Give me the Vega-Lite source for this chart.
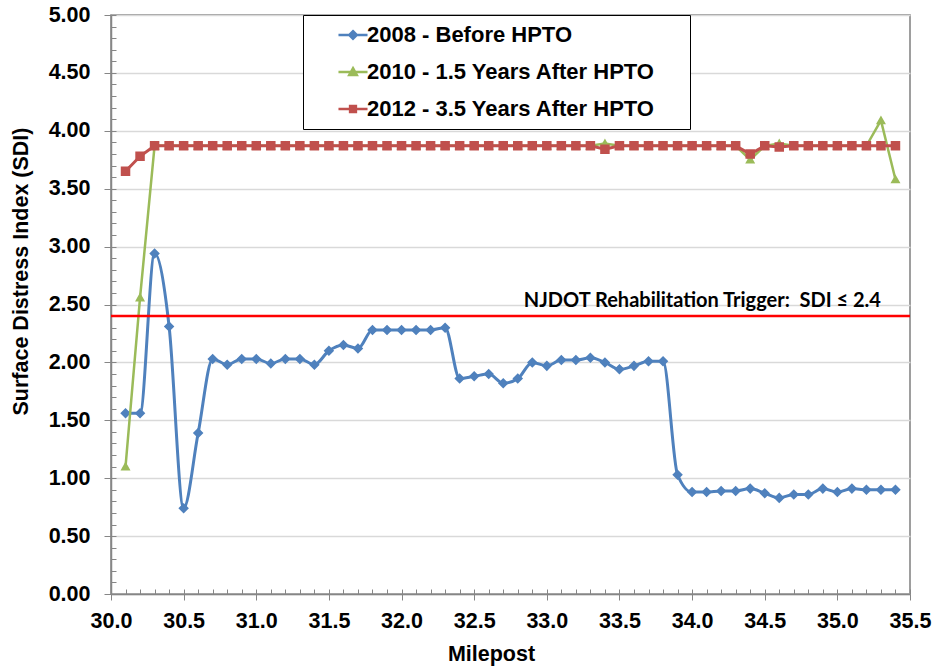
{
"$schema": "https://vega.github.io/schema/vega-lite/v6.json",
"width": 799, "height": 579,
"autosize": "none",
"padding": {"left": 111, "top": 15, "right": 25, "bottom": 73},
"background": "white",
"config": {
  "view": {"stroke": "#7f7f7f", "strokeWidth": 1.5},
  "font": "Liberation Sans",
  "axis": {"labelFont": "Liberation Sans", "labelFontWeight": "bold", "labelFontSize": 21.5, "labelColor": "#000000", "titleFont": "Liberation Sans", "titleFontWeight": "bold", "titleFontSize": 21.5, "titleColor": "#000000", "domainColor": "#868686", "tickColor": "#868686", "gridColor": "#D9D9D9"}
},
"datasets": {
"b": [
{"m":30.1,"v":1.56},{"m":30.2,"v":1.56},{"m":30.3,"v":2.94},{"m":30.4,"v":2.31},{"m":30.5,"v":0.74},{"m":30.6,"v":1.39},{"m":30.7,"v":2.03},{"m":30.8,"v":1.98},{"m":30.9,"v":2.03},{"m":31.0,"v":2.03},
{"m":31.1,"v":1.99},{"m":31.2,"v":2.03},{"m":31.3,"v":2.03},{"m":31.4,"v":1.98},{"m":31.5,"v":2.10},{"m":31.6,"v":2.15},{"m":31.7,"v":2.12},{"m":31.8,"v":2.28},{"m":31.9,"v":2.28},{"m":32.0,"v":2.28},
{"m":32.1,"v":2.28},{"m":32.2,"v":2.28},{"m":32.3,"v":2.30},{"m":32.4,"v":1.86},{"m":32.5,"v":1.88},{"m":32.6,"v":1.90},{"m":32.7,"v":1.82},{"m":32.8,"v":1.86},{"m":32.9,"v":2.00},{"m":33.0,"v":1.97},
{"m":33.1,"v":2.02},{"m":33.2,"v":2.02},{"m":33.3,"v":2.04},{"m":33.4,"v":2.00},{"m":33.5,"v":1.94},{"m":33.6,"v":1.97},{"m":33.7,"v":2.01},{"m":33.8,"v":2.01},{"m":33.9,"v":1.03},{"m":34.0,"v":0.88},
{"m":34.1,"v":0.88},{"m":34.2,"v":0.89},{"m":34.3,"v":0.89},{"m":34.4,"v":0.91},{"m":34.5,"v":0.87},{"m":34.6,"v":0.83},{"m":34.7,"v":0.86},{"m":34.8,"v":0.86},{"m":34.9,"v":0.91},{"m":35.0,"v":0.88},
{"m":35.1,"v":0.91},{"m":35.2,"v":0.90},{"m":35.3,"v":0.90},{"m":35.4,"v":0.90}
],
"g": [
{"m":30.1,"v":1.10},{"m":30.2,"v":2.56},{"m":30.3,"v":3.87},{"m":30.4,"v":3.87},{"m":30.5,"v":3.87},{"m":30.6,"v":3.87},{"m":30.7,"v":3.87},{"m":30.8,"v":3.87},{"m":30.9,"v":3.87},{"m":31.0,"v":3.87},
{"m":31.1,"v":3.87},{"m":31.2,"v":3.87},{"m":31.3,"v":3.87},{"m":31.4,"v":3.87},{"m":31.5,"v":3.87},{"m":31.6,"v":3.87},{"m":31.7,"v":3.87},{"m":31.8,"v":3.87},{"m":31.9,"v":3.87},{"m":32.0,"v":3.87},
{"m":32.1,"v":3.87},{"m":32.2,"v":3.87},{"m":32.3,"v":3.87},{"m":32.4,"v":3.87},{"m":32.5,"v":3.87},{"m":32.6,"v":3.87},{"m":32.7,"v":3.87},{"m":32.8,"v":3.87},{"m":32.9,"v":3.87},{"m":33.0,"v":3.87},
{"m":33.1,"v":3.87},{"m":33.2,"v":3.87},{"m":33.3,"v":3.87},{"m":33.4,"v":3.89},{"m":33.5,"v":3.87},{"m":33.6,"v":3.87},{"m":33.7,"v":3.87},{"m":33.8,"v":3.87},{"m":33.9,"v":3.87},{"m":34.0,"v":3.87},
{"m":34.1,"v":3.87},{"m":34.2,"v":3.87},{"m":34.3,"v":3.87},{"m":34.4,"v":3.75},{"m":34.5,"v":3.87},{"m":34.6,"v":3.89},{"m":34.7,"v":3.87},{"m":34.8,"v":3.87},{"m":34.9,"v":3.87},{"m":35.0,"v":3.87},
{"m":35.1,"v":3.87},{"m":35.2,"v":3.87},{"m":35.3,"v":4.09},{"m":35.4,"v":3.58}
],
"r": [
{"m":30.1,"v":3.65},{"m":30.2,"v":3.78},{"m":30.3,"v":3.87},{"m":30.4,"v":3.87},{"m":30.5,"v":3.87},{"m":30.6,"v":3.87},{"m":30.7,"v":3.87},{"m":30.8,"v":3.87},{"m":30.9,"v":3.87},{"m":31.0,"v":3.87},
{"m":31.1,"v":3.87},{"m":31.2,"v":3.87},{"m":31.3,"v":3.87},{"m":31.4,"v":3.87},{"m":31.5,"v":3.87},{"m":31.6,"v":3.87},{"m":31.7,"v":3.87},{"m":31.8,"v":3.87},{"m":31.9,"v":3.87},{"m":32.0,"v":3.87},
{"m":32.1,"v":3.87},{"m":32.2,"v":3.87},{"m":32.3,"v":3.87},{"m":32.4,"v":3.87},{"m":32.5,"v":3.87},{"m":32.6,"v":3.87},{"m":32.7,"v":3.87},{"m":32.8,"v":3.87},{"m":32.9,"v":3.87},{"m":33.0,"v":3.87},
{"m":33.1,"v":3.87},{"m":33.2,"v":3.87},{"m":33.3,"v":3.87},{"m":33.4,"v":3.84},{"m":33.5,"v":3.87},{"m":33.6,"v":3.87},{"m":33.7,"v":3.87},{"m":33.8,"v":3.87},{"m":33.9,"v":3.87},{"m":34.0,"v":3.87},
{"m":34.1,"v":3.87},{"m":34.2,"v":3.87},{"m":34.3,"v":3.87},{"m":34.4,"v":3.80},{"m":34.5,"v":3.87},{"m":34.6,"v":3.86},{"m":34.7,"v":3.87},{"m":34.8,"v":3.87},{"m":34.9,"v":3.87},{"m":35.0,"v":3.87},
{"m":35.1,"v":3.87},{"m":35.2,"v":3.87},{"m":35.3,"v":3.87},{"m":35.4,"v":3.87}
]
},
"layer": [
{
  "data": {"name": "b"},
  "mark": {"type": "line", "interpolate": "monotone", "strokeWidth": 3},
  "encoding": {
    "x": {"field": "m", "type": "quantitative", "scale": {"domain": [30, 35.5], "nice": false, "zero": false},
      "axis": {"values": [30,30.5,31,31.5,32,32.5,33,33.5,34,34.5,35,35.5], "format": ".1f", "tickSize": 6, "labelPadding": 10, "title": "Milepost", "titleX": 380, "titleY": 66, "titleBaseline": "alphabetic", "grid": false, "domainWidth": 1.5, "labelFlush": false, "labelOverlap": false}},
    "y": {"field": "v", "type": "quantitative", "scale": {"domain": [0, 5], "nice": false},
      "axis": {"values": [0,0.5,1,1.5,2,2.5,3,3.5,4,4.5,5], "format": ".2f", "tickSize": 7, "labelPadding": 14, "title": "Surface Distress Index (SDI)", "titleX": -79, "titleY": 256, "titleBaseline": "bottom", "grid": true, "gridWidth": 1.3, "domainWidth": 1.5, "labelOverlap": false, "labelFlush": false}},
    "color": {"datum": "2008 - Before HPTO", "type": "nominal",
      "scale": {"domain": ["2008 - Before HPTO", "2010 - 1.5 Years After HPTO", "2012 - 3.5 Years After HPTO"], "range": ["#4F81BD", "#9BBB59", "#C0504D"]},
      "legend": {"orient": "none", "legendX": 192, "legendY": 0, "title": "\u00a0", "titleOrient": "right", "titlePadding": 26, "titleFontSize": 22, "titleFont": "Liberation Sans", "fillColor": "white", "strokeColor": "black", "padding": 9, "symbolOffset": 30, "labelOffset": 3, "rowPadding": 15, "labelFont": "Liberation Sans", "labelFontWeight": "bold", "labelFontSize": 22, "labelColor": "black", "symbolSize": 135, "symbolStrokeWidth": 2.5, "symbolOpacity": 1, "labelLimit": 0}
    }
  }
},
{
  "data": {"name": "b"},
  "mark": {"type": "point", "filled": true, "opacity": 1, "size": 262},
  "encoding": {
    "x": {"field": "m", "type": "quantitative", "axis": null},
    "y": {"field": "v", "type": "quantitative", "axis": null},
    "color": {"datum": "2008 - Before HPTO", "type": "nominal"},
    "shape": {"datum": "2008 - Before HPTO", "type": "nominal",
      "scale": {"domain": ["2008 - Before HPTO", "2010 - 1.5 Years After HPTO", "2012 - 3.5 Years After HPTO"], "range": ["M-2.5,0H2.5M0,-0.65L0.65,0L0,0.65L-0.65,0Z", "M-2.5,0H2.5M0,-0.65L0.65,0.5L-0.65,0.5Z", "M-2.5,0H2.5M-0.5,-0.5H0.5V0.5H-0.5Z"]}}
  }
},
{
  "data": {"name": "g"},
  "mark": {"type": "line", "strokeWidth": 2.5},
  "encoding": {
    "x": {"field": "m", "type": "quantitative", "axis": null},
    "y": {"field": "v", "type": "quantitative", "axis": null},
    "color": {"datum": "2010 - 1.5 Years After HPTO", "type": "nominal"}
  }
},
{
  "data": {"name": "g"},
  "mark": {"type": "point", "filled": true, "opacity": 1, "size": 237},
  "encoding": {
    "x": {"field": "m", "type": "quantitative", "axis": null},
    "y": {"field": "v", "type": "quantitative", "axis": null},
    "color": {"datum": "2010 - 1.5 Years After HPTO", "type": "nominal"},
    "shape": {"datum": "2010 - 1.5 Years After HPTO", "type": "nominal"}
  }
},
{
  "data": {"name": "r"},
  "mark": {"type": "line", "strokeWidth": 3},
  "encoding": {
    "x": {"field": "m", "type": "quantitative",
      "axis": {"orient": "bottom", "values": [30.0,30.1,30.2,30.3,30.4,30.5,30.6,30.7,30.8,30.9,31.0,31.1,31.2,31.3,31.4,31.5,31.6,31.7,31.8,31.9,32.0,32.1,32.2,32.3,32.4,32.5,32.6,32.7,32.8,32.9,33.0,33.1,33.2,33.3,33.4,33.5,33.6,33.7,33.8,33.9,34.0,34.1,34.2,34.3,34.4,34.5,34.6,34.7,34.8,34.9,35.0,35.1,35.2,35.3,35.4,35.5], "tickSize": -5, "labels": false, "domain": false, "grid": false, "title": null}},
    "y": {"field": "v", "type": "quantitative",
      "axis": {"orient": "left", "values": [0,0.1,0.2,0.3,0.4,0.5,0.6,0.7,0.8,0.9,1.0,1.1,1.2,1.3,1.4,1.5,1.6,1.7,1.8,1.9,2.0,2.1,2.2,2.3,2.4,2.5,2.6,2.7,2.8,2.9,3.0,3.1,3.2,3.3,3.4,3.5,3.6,3.7,3.8,3.9,4.0,4.1,4.2,4.3,4.4,4.5,4.6,4.7,4.8,4.9,5.0], "tickSize": -5, "labels": false, "domain": false, "grid": false, "title": null}},
    "color": {"datum": "2012 - 3.5 Years After HPTO", "type": "nominal"}
  }
},
{
  "data": {"name": "r"},
  "mark": {"type": "point", "filled": true, "opacity": 1, "size": 361},
  "encoding": {
    "x": {"field": "m", "type": "quantitative", "axis": null},
    "y": {"field": "v", "type": "quantitative", "axis": null},
    "color": {"datum": "2012 - 3.5 Years After HPTO", "type": "nominal"},
    "shape": {"datum": "2012 - 3.5 Years After HPTO", "type": "nominal"}
  }
},
{
  "data": {"values": [{}]},
  "mark": {"type": "rule", "color": "#FF0000", "strokeWidth": 2.5},
  "encoding": {"y": {"datum": 2.4, "type": "quantitative", "axis": null}}
},
{
  "data": {"values": [{}]},
  "mark": {"type": "text", "text": "NJDOT Rehabilitation Trigger:\u00a0 SDI ≤ 2.4", "align": "right", "baseline": "alphabetic", "dy": -9, "font": "Lato", "fontWeight": "bold", "fontSize": 20, "color": "#000000"},
  "encoding": {"x": {"datum": 35.3, "type": "quantitative", "axis": null}, "y": {"datum": 2.4, "type": "quantitative", "axis": null}}
}
],
"resolve": {"axis": {"x": "independent", "y": "independent"}}
}
